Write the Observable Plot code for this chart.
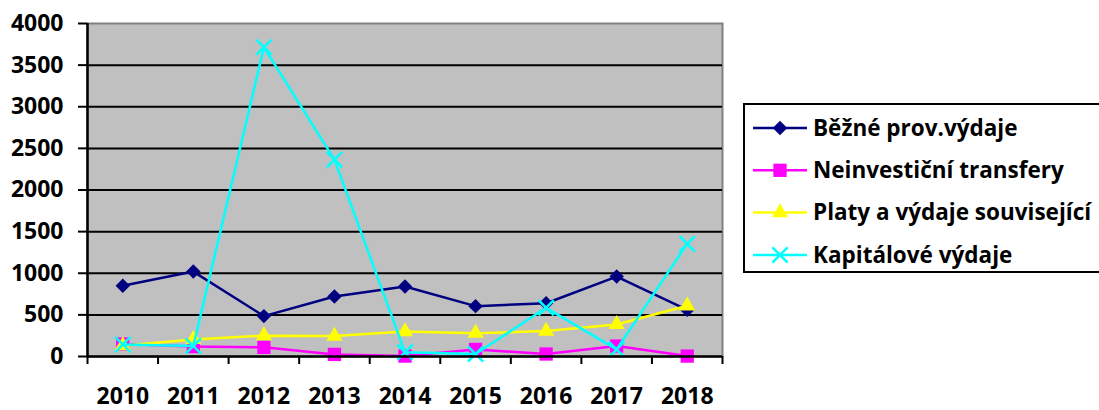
<!DOCTYPE html>
<html><head><meta charset="utf-8">
<script src="https://cdn.jsdelivr.net/npm/d3@7"></script>
<script src="https://cdn.jsdelivr.net/npm/@observablehq/plot@0.6"></script>
<style>
html,body{margin:0;padding:0;background:#fff;overflow:hidden;width:1099px;height:410px;}
#wrap{position:relative;width:1099px;height:410px;}
#chart{position:absolute;left:0;top:0;}
#legend{position:absolute;left:743px;top:103px;}
</style></head>
<body><div id="wrap"><div id="chart"></div><div id="legend"></div></div>
<script>
const years = [2010, 2011, 2012, 2013, 2014, 2015, 2016, 2017, 2018];
const seriesNames = ["Běžné prov.výdaje", "Neinvestiční transfery", "Platy a výdaje související", "Kapitálové výdaje"];
const bezne = [850, 1020, 485, 720, 840, 605, 640, 960, 560];
const neinv = [150, 120, 110, 25, 5, 85, 30, 125, 5];
const platy = [130, 205, 250, 245, 300, 280, 305, 385, 610];
const kapit = [145, 125, 3715, 2365, 50, 30, 585, 85, 1355];
const yTicks = [0, 500, 1000, 1500, 2000, 2500, 3000, 3500, 4000];
const gridVals = [500, 1000, 1500, 2000, 2500, 3000, 3500];

const colors = ["#000080", "#FF00FF", "#FFFF00", "#00FFFF"];
const symbols = ["diamond2", "square", "triangle", "times"];
const radii = [6.5, 7.5, 6, 7];
const values = [bezne, neinv, platy, kapit];
const boundaries = [...years.map(y => y - 0.5), years[years.length - 1] + 0.5];

const seriesMarks = values.flatMap((vals, i) => {
  const data = years.map((y, j) => ({year: y, value: vals[j]}));
  const isStroke = symbols[i] === "times";
  return [
    Plot.line(data, {x: "year", y: "value", stroke: colors[i], strokeWidth: 2.5}),
    Plot.dot(data, isStroke
      ? {x: "year", y: "value", symbol: symbols[i], r: radii[i], stroke: colors[i], strokeWidth: 2.5, fill: "none"}
      : {x: "year", y: "value", symbol: symbols[i], r: radii[i], fill: colors[i], stroke: "none"})
  ];
});

const chart = Plot.plot({
  width: 1099, height: 410,
  marginLeft: 87, marginRight: 377, marginTop: 23, marginBottom: 54,
  x: {domain: [boundaries[0], boundaries[boundaries.length - 1]], label: null},
  y: {domain: [0, 4000], label: null},
  style: {fontFamily: "'Open Sans'", fontWeight: "bold", fontSize: "23px", color: "#000", background: "transparent"},
  marks: [
    Plot.frame({fill: "#C0C0C0", stroke: "#808080", strokeWidth: 2}),
    Plot.ruleY(gridVals, {stroke: "#000", strokeWidth: 2}),
    ...seriesMarks,
    Plot.ruleX([boundaries[0]], {stroke: "#000", strokeWidth: 2.5}),
    Plot.ruleY([0], {stroke: "#000", strokeWidth: 2.5}),
    Plot.axisY({ticks: yTicks, tickSize: 9, tickPadding: 15, strokeWidth: 2, tickFormat: d => String(d), label: null}),
    Plot.axisX({ticks: boundaries, tickSize: 8, strokeWidth: 2, tickFormat: () => "", label: null}),
    Plot.axisX({ticks: years, tickSize: 0, tickPadding: 31, tickFormat: d => String(d), label: null})
  ]
});
document.getElementById("chart").appendChild(chart);

// legend
const lw = 380, lh = 170;
const lsvg = d3.select("#legend").append("svg").attr("width", lw).attr("height", lh)
  .style("font-family", "'Open Sans'").style("font-weight", "bold").style("font-size", "22.5px");
lsvg.append("rect").attr("x", 1).attr("y", 1).attr("width", lw).attr("height", lh - 2)
  .attr("fill", "#fff").attr("stroke", "#000").attr("stroke-width", 2);
const symMap = {diamond2: d3.symbolDiamond2, square: d3.symbolSquare, triangle: d3.symbolTriangle, times: d3.symbolTimes};
seriesNames.forEach((name, i) => {
  const cy = 25 + i * 42.3;
  const g = lsvg.append("g");
  g.append("line").attr("x1", 10).attr("x2", 64).attr("y1", cy).attr("y2", cy)
    .attr("stroke", colors[i]).attr("stroke-width", 2.5);
  const p = g.append("path").attr("transform", `translate(37,${cy})`)
    .attr("d", d3.symbol(symMap[symbols[i]], Math.PI * radii[i] * radii[i])());
  if (symbols[i] === "times") p.attr("fill", "none").attr("stroke", colors[i]).attr("stroke-width", 2.5);
  else p.attr("fill", colors[i]);
  g.append("text").attr("x", 70).attr("y", cy).attr("dy", "0.35em").attr("fill", "#000").text(name);
});
</script></body></html>
